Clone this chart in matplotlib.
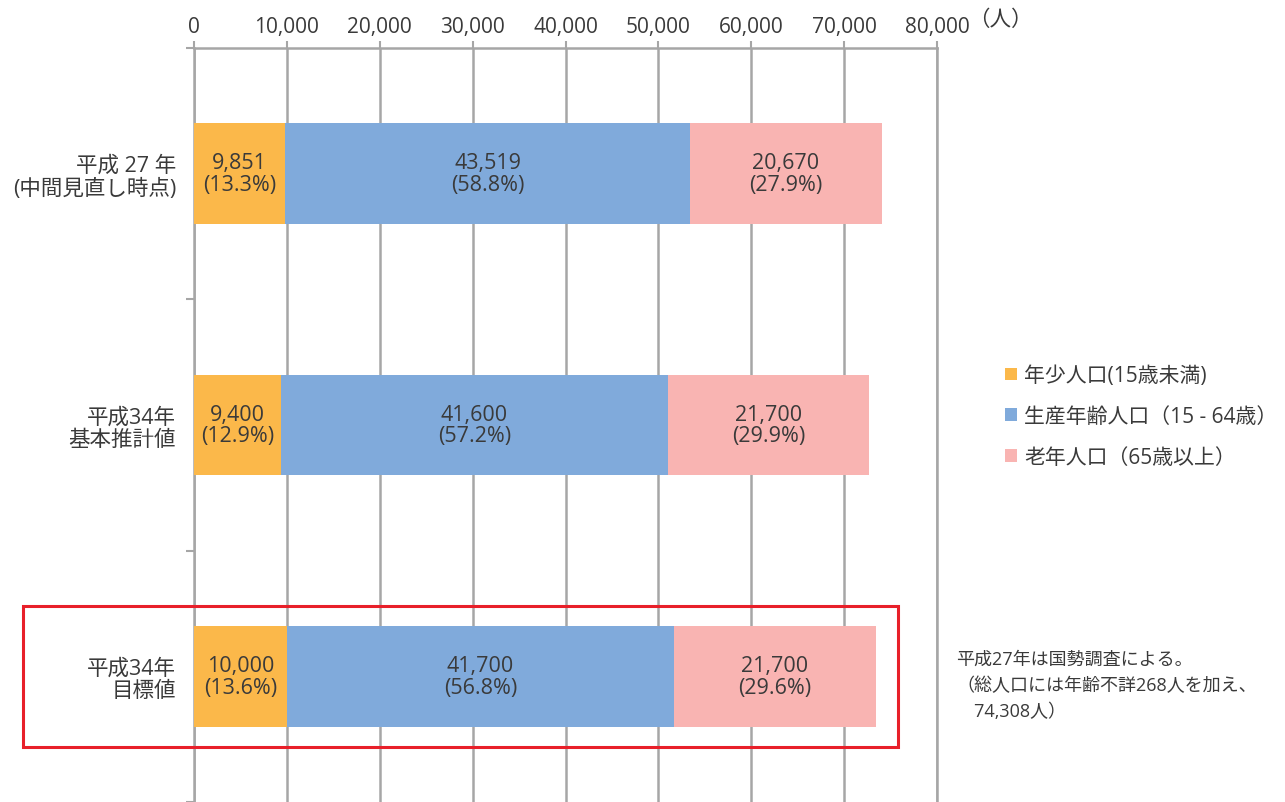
import matplotlib
matplotlib.use("Agg")
import matplotlib.pyplot as plt
from matplotlib.patches import Rectangle
from matplotlib.ticker import FuncFormatter

plt.rcParams['font.family'] = ['Open Sans', 'Noto Sans CJK JP', 'DejaVu Sans']

# データ
categories = ['平成 27 年\n(中間見直し時点)', '平成34年\n基本推計値', '平成34年\n目標値']
young = [9851, 9400, 10000]
working = [43519, 41600, 41700]
old = [20670, 21700, 21700]
young_pct = ['13.3%', '12.9%', '13.6%']
working_pct = ['58.8%', '57.2%', '56.8%']
old_pct = ['27.9%', '29.9%', '29.6%']
series_names = ['年少人口(15歳未満)', '生産年齢人口（15 - 64歳）', '老年人口（65歳以上）']
colors = ['#FBB84A', '#80AADB', '#F9B4B2']
note = ['平成27年は国勢調査による。', '（総人口には年齢不詳268人を加え、', '　74,308人）']

text_color = '#3A3A3A'
grid_color = '#A6A6A6'

fig = plt.figure(figsize=(12.85, 8.03), dpi=100)
ax = fig.add_axes([194 / 1285, 0.0, (937 - 194) / 1285, 1 - 49 / 803])

ypos = list(range(len(categories)))
left2 = [a + b for a, b in zip(young, working)]
series = [(young, [0] * 3, young_pct), (working, young, working_pct), (old, left2, old_pct)]

for (vals, lefts, pcts), name, c in zip(series, series_names, colors):
    bars = ax.barh(ypos, vals, left=lefts, height=0.4, color=c, label=name, zorder=3)
    for b, v, p in zip(bars, vals, pcts):
        ax.text(b.get_x() + b.get_width() / 2, b.get_y() + b.get_height() / 2,
                f'{v:,}\n({p})', ha='center', va='center', fontsize=15.5,
                color=text_color, linespacing=1.05, zorder=4)

ax.set_xlim(0, 80000)
ax.set_ylim(2.5, -0.5)
ax.set_xticks(range(0, 80001, 10000))
ax.xaxis.set_major_formatter(FuncFormatter(lambda x, p: f'{int(x):,}'))
ax.xaxis.tick_top()
ax.tick_params(axis='x', length=5, color=grid_color, labelsize=15,
               labelcolor=text_color, pad=3, width=1.5)
ax.grid(axis='x', color=grid_color, linewidth=1.8, zorder=0)

ax.set_yticks(ypos)
ax.set_yticklabels(categories, fontsize=15.5, color=text_color, linespacing=1.1,
                   ha='right')
ax.tick_params(axis='y', which='major', length=0, pad=13)
ax.set_yticks([-0.5, 0.5, 1.5, 2.5], minor=True)
ax.tick_params(axis='y', which='minor', length=6, color=grid_color, width=1.5)

ax.spines['bottom'].set_visible(False)
for s in ['top', 'left', 'right']:
    ax.spines[s].set_color(grid_color)
    ax.spines[s].set_linewidth(1.8)

fig.text(968 / 1285, 1 - 20 / 803, '（人）', fontsize=15.5, color=text_color,
         ha='left', va='center')

leg = fig.legend(loc='upper left', bbox_to_anchor=(997 / 1285, 1 - 358 / 803),
                 frameon=False, fontsize=15, handlelength=0.55, handleheight=0.55,
                 handletextpad=0.35, labelspacing=0.95, borderaxespad=0)
for t in leg.get_texts():
    t.set_color(text_color)

for i, line in enumerate(note):
    fig.text(956 / 1285, 1 - (660 + i * 26) / 803, line, fontsize=13,
             color=text_color, ha='left', va='center')

fig.patches.append(Rectangle((23 / 1285, 1 - 748 / 803), (898 - 23) / 1285,
                             (748 - 607) / 803, transform=fig.transFigure,
                             fill=False, edgecolor='#E8202A', linewidth=2.2,
                             zorder=5))

fig.savefig('out.png', dpi=100)
